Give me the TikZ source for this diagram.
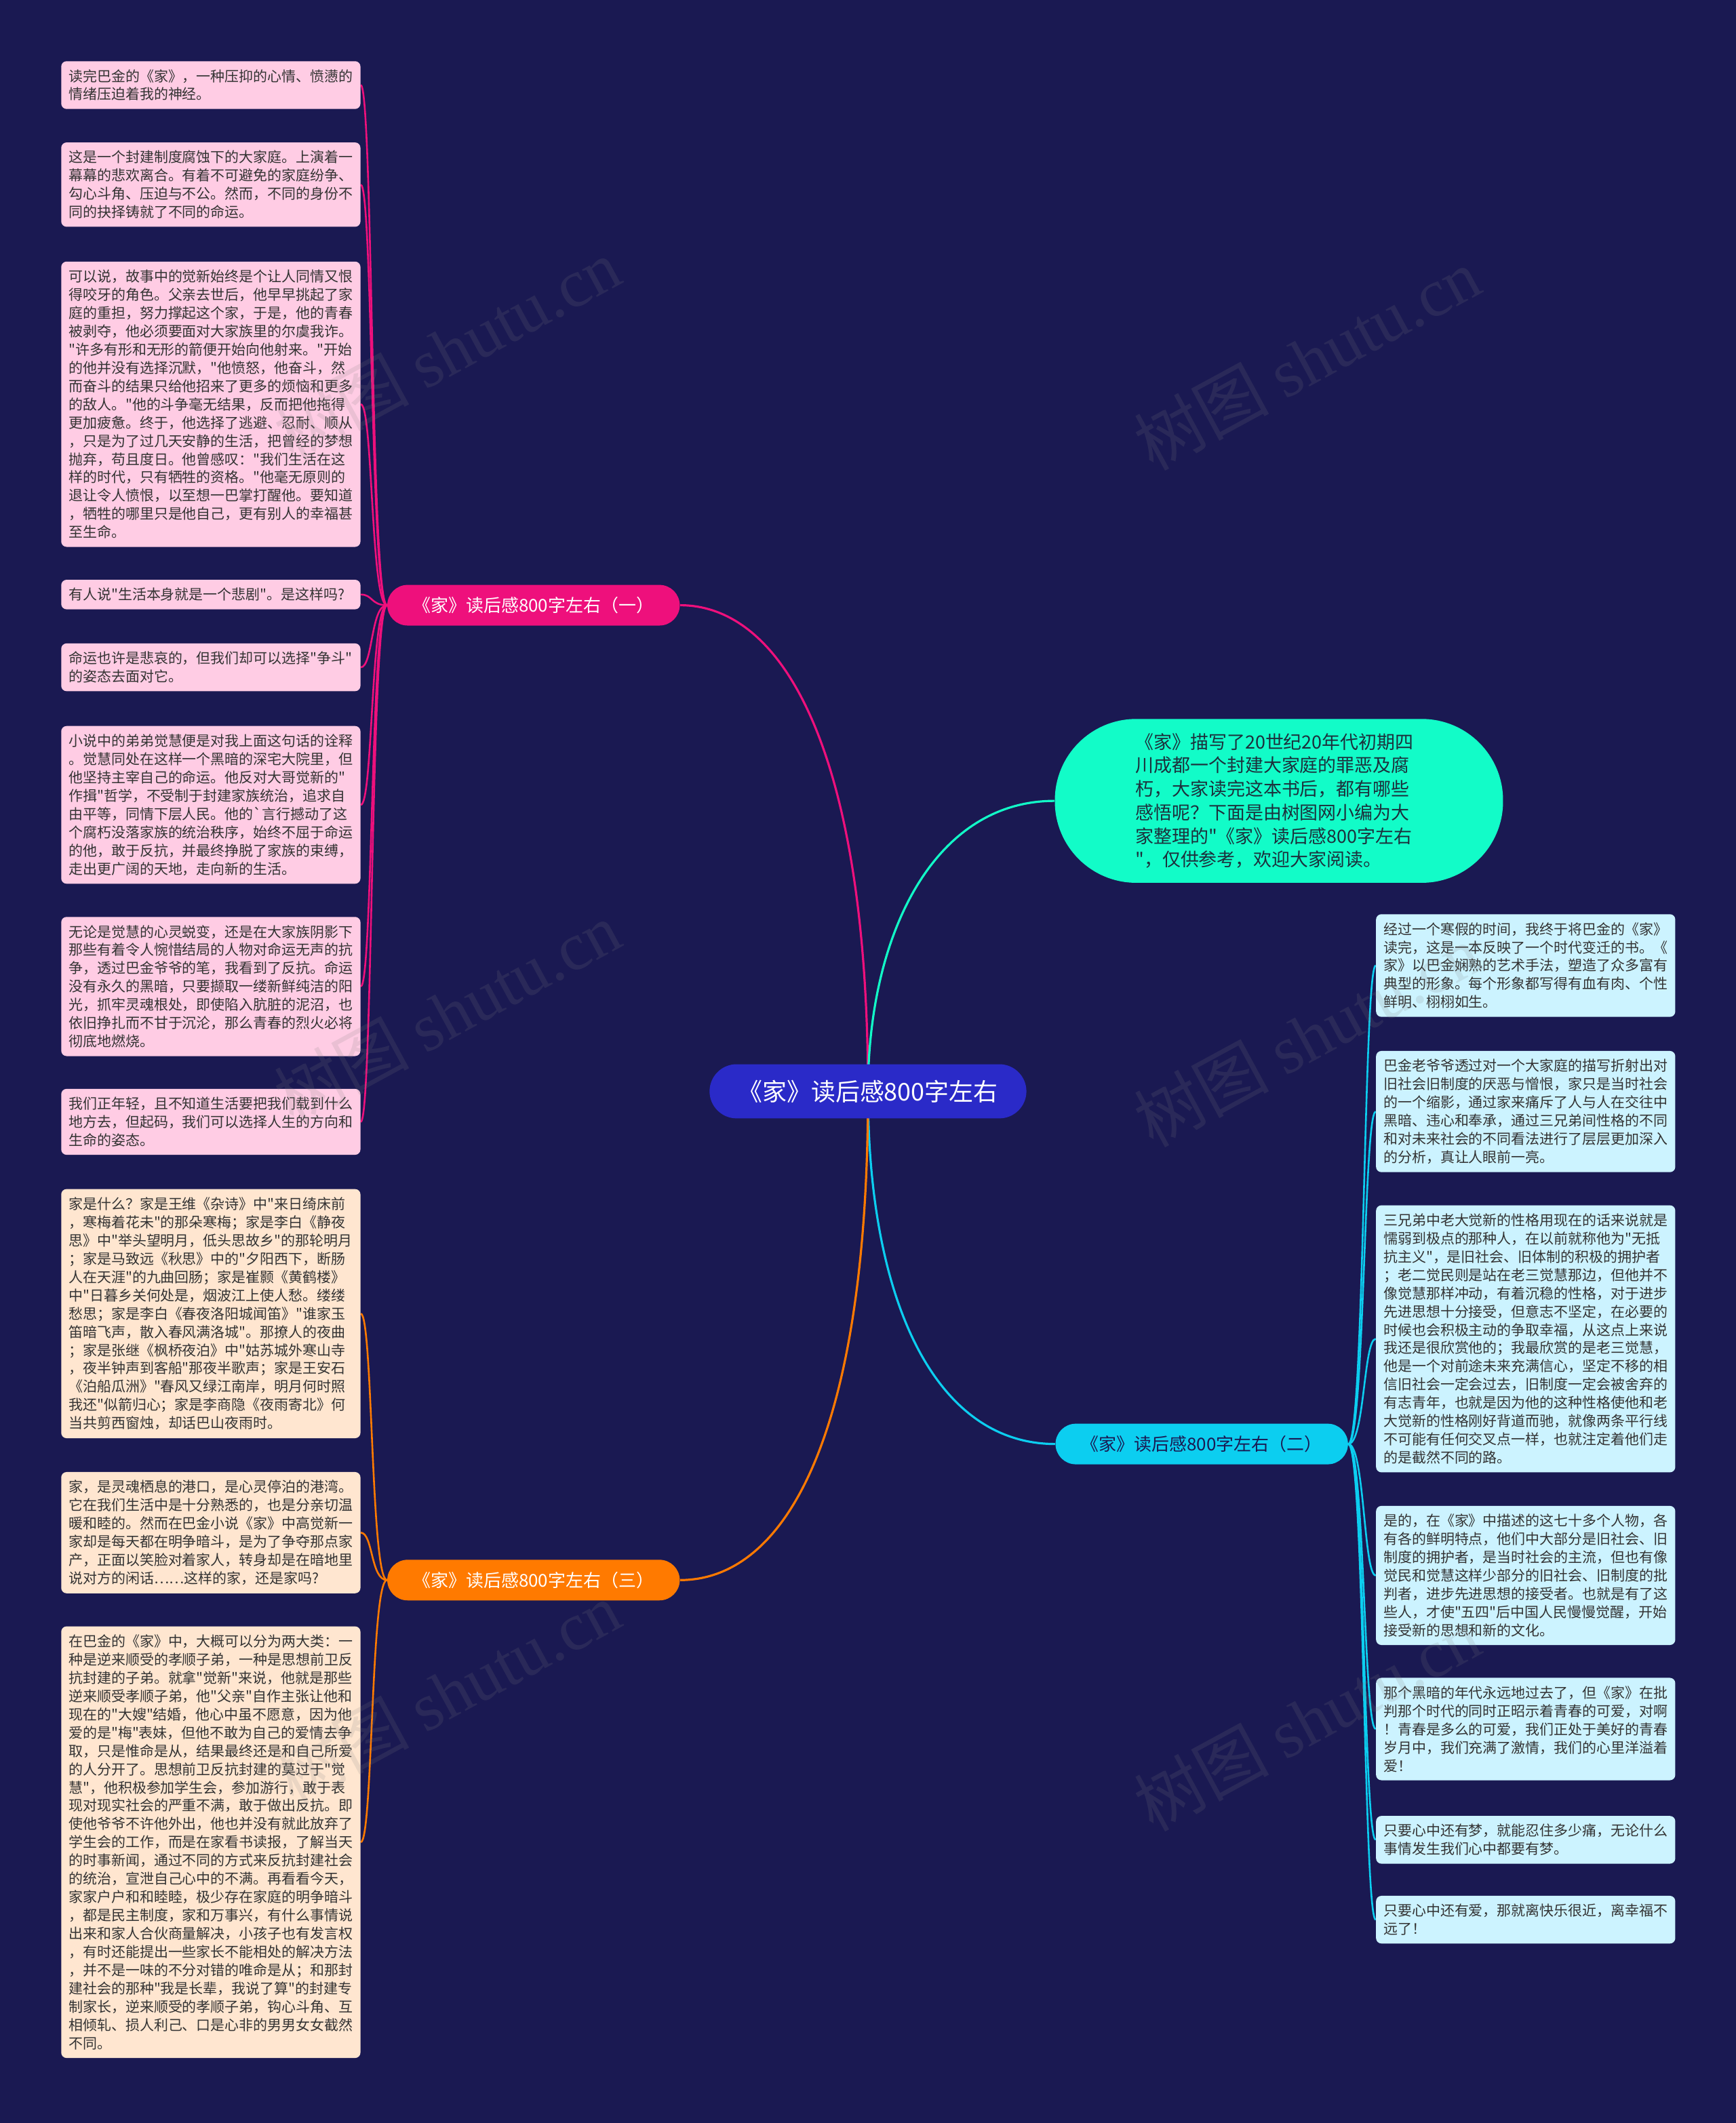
\documentclass[tikz,border=0pt]{standalone}
\usepackage{fontspec}
\newfontfamily\zh{Noto Sans CJK SC}
\newfontfamily\wmlatin{Liberation Serif}
\usetikzlibrary{calc}
\definecolor{bgc}{RGB}{26,25,82}
\definecolor{cnode}{RGB}{42,42,200}
\definecolor{pinkb}{RGB}{238,16,124}
\definecolor{orangeb}{RGB}{255,122,0}
\definecolor{cyanb}{RGB}{12,206,240}
\definecolor{tealb}{RGB}{18,252,200}
\definecolor{pinkl}{RGB}{255,204,228}
\definecolor{peachl}{RGB}{255,230,208}
\definecolor{cyanl}{RGB}{204,243,255}
\definecolor{ltext}{RGB}{51,51,51}
\definecolor{ttext}{RGB}{28,48,60}
\definecolor{b2text}{RGB}{26,25,82}
\pgfdeclarelayer{back}
\pgfdeclarelayer{edges}
\pgfdeclarelayer{front}
\pgfsetlayers{back,edges,main,front}
\begin{document}
\zh
\begin{tikzpicture}[x=1pt,y=-1pt,
  leaf/.style={rounded corners=4pt, anchor=north west, text width=210pt,
    inner xsep=5.5pt, inner ysep=6pt, align=left, text=ltext,
    font=\zh\fontsize{10.5pt}{13.5pt}\selectfont},
  pinkleaf/.style={leaf, fill=pinkl},
  peachleaf/.style={leaf, fill=peachl},
  cyanleaf/.style={leaf, fill=cyanl},
  branchbox/.style={rounded corners=15pt, minimum width=216pt, minimum height=30pt,
    inner sep=0pt, font=\zh\fontsize{13pt}{15pt}\selectfont},
  mainline/.style={line width=1.6pt},
  leafline/.style={line width=1.3pt},
  wm/.style={rotate=28.5, text=gray, text opacity=0.16,
    font=\zh\fontsize{50pt}{50pt}\selectfont}
]
\begin{pgfonlayer}{back}
\fill[bgc] (0,0) rectangle (1282,1568);
\end{pgfonlayer}
\useasboundingbox (0,0) rectangle (1282,1568);

% central and branch nodes
\node[fill=cnode, rounded corners=20pt, minimum width=234pt, minimum height=40pt,
  inner sep=0pt, text=white, font=\zh\fontsize{18pt}{20pt}\selectfont] (cn) at (641,806) {《家》读后感800字左右};
\coordinate (hub) at (641,806);
\node[branchbox, fill=pinkb, text=white] (b1) at (394,447) {《家》读后感800字左右（一）};
\node[branchbox, fill=cyanb, text=b2text] (b2) at (887.5,1066.5) {《家》读后感800字左右（二）};
\node[branchbox, fill=orangeb, text=white] (b3) at (394,1167) {《家》读后感800字左右（三）};
\node[fill=tealb, rounded corners=60pt, minimum width=331pt, minimum height=121pt,
  inner sep=0pt, text width=212pt, align=left, text=ttext,
  font=\zh\fontsize{13.5pt}{17.4pt}\selectfont] (tl) at (944.5,591.5)
  {《家》描写了20世纪20年代初期四\\川成都一个封建大家庭的罪恶及腐\\朽，大家读完这本书后，都有哪些\\感悟呢？下面是由树图网小编为大\\家整理的"《家》读后感800字左右\\"，仅供参考，欢迎大家阅读。};

% left pink leaves
\node[pinkleaf] (l1) at (45,45) {读完巴金的《家》，一种压抑的心情、愤懑的\\情绪压迫着我的神经。};
\node[pinkleaf] (l2) at (45,105) {这是一个封建制度腐蚀下的大家庭。上演着一\\幕幕的悲欢离合。有着不可避免的家庭纷争、\\勾心斗角、压迫与不公。然而，不同的身份不\\同的抉择铸就了不同的命运。};
\node[pinkleaf] (l3) at (45,193) {可以说，故事中的觉新始终是个让人同情又恨\\得咬牙的角色。父亲去世后，他早早挑起了家\\庭的重担，努力撑起这个家，于是，他的青春\\被剥夺，他必须要面对大家族里的尔虞我诈。\\"许多有形和无形的箭便开始向他射来。"开始\\的他并没有选择沉默，"他愤怒，他奋斗，然\\而奋斗的结果只给他招来了更多的烦恼和更多\\的敌人。"他的斗争毫无结果，反而把他拖得\\更加疲惫。终于，他选择了逃避、忍耐、顺从\\，只是为了过几天安静的生活，把曾经的梦想\\抛弃，苟且度日。他曾感叹："我们生活在这\\样的时代，只有牺牲的资格。"他毫无原则的\\退让令人愤恨，以至想一巴掌打醒他。要知道\\，牺牲的哪里只是他自己，更有别人的幸福甚\\至生命。};
\node[pinkleaf] (l4) at (45,428) {有人说"生活本身就是一个悲剧"。是这样吗?};
\node[pinkleaf] (l5) at (45,475) {命运也许是悲哀的，但我们却可以选择"争斗"\\的姿态去面对它。};
\node[pinkleaf] (l6) at (45,536) {小说中的弟弟觉慧便是对我上面这句话的诠释\\。觉慧同处在这样一个黑暗的深宅大院里，但\\他坚持主宰自己的命运。他反对大哥觉新的"\\作揖"哲学，不受制于封建家族统治，追求自\\由平等，同情下层人民。他的`言行撼动了这\\个腐朽没落家族的统治秩序，始终不屈于命运\\的他，敢于反抗，并最终挣脱了家族的束缚，\\走出更广阔的天地，走向新的生活。};
\node[pinkleaf] (l7) at (45,677) {无论是觉慧的心灵蜕变，还是在大家族阴影下\\那些有着令人惋惜结局的人物对命运无声的抗\\争，透过巴金爷爷的笔，我看到了反抗。命运\\没有永久的黑暗，只要撷取一缕新鲜纯洁的阳\\光，抓牢灵魂根处，即使陷入肮脏的泥沼，也\\依旧挣扎而不甘于沉沦，那么青春的烈火必将\\彻底地燃烧。};
\node[pinkleaf] (l8) at (45,804) {我们正年轻，且不知道生活要把我们载到什么\\地方去，但起码，我们可以选择人生的方向和\\生命的姿态。};

% left peach leaves
\node[peachleaf] (l9) at (45,878) {家是什么？家是王维《杂诗》中"来日绮床前\\，寒梅着花未"的那朵寒梅；家是李白《静夜\\思》中"举头望明月，低头思故乡"的那轮明月\\；家是马致远《秋思》中的"夕阳西下，断肠\\人在天涯"的九曲回肠；家是崔颢《黄鹤楼》\\中"日暮乡关何处是，烟波江上使人愁。缕缕\\愁思；家是李白《春夜洛阳城闻笛》"谁家玉\\笛暗飞声，散入春风满洛城"。那撩人的夜曲\\；家是张继《枫桥夜泊》中"姑苏城外寒山寺\\，夜半钟声到客船"那夜半歌声；家是王安石\\《泊船瓜洲》"春风又绿江南岸，明月何时照\\我还"似箭归心；家是李商隐《夜雨寄北》何\\当共剪西窗烛，却话巴山夜雨时。};
\node[peachleaf] (l10) at (45,1087) {家，是灵魂栖息的港口，是心灵停泊的港湾。\\它在我们生活中是十分熟悉的，也是分亲切温\\暖和睦的。然而在巴金小说《家》中高觉新一\\家却是每天都在明争暗斗，是为了争夺那点家\\产，正面以笑脸对着家人，转身却是在暗地里\\说对方的闲话……这样的家，还是家吗?};
\node[peachleaf] (l11) at (45,1201) {在巴金的《家》中，大概可以分为两大类：一\\种是逆来顺受的孝顺子弟，一种是思想前卫反\\抗封建的子弟。就拿"觉新"来说，他就是那些\\逆来顺受孝顺子弟，他"父亲"自作主张让他和\\现在的"大嫂"结婚，他心中虽不愿意，因为他\\爱的是"梅"表妹，但他不敢为自己的爱情去争\\取，只是惟命是从，结果最终还是和自己所爱\\的人分开了。思想前卫反抗封建的莫过于"觉\\慧"，他积极参加学生会，参加游行，敢于表\\现对现实社会的严重不满，敢于做出反抗。即\\使他爷爷不许他外出，他也并没有就此放弃了\\学生会的工作，而是在家看书读报，了解当天\\的时事新闻，通过不同的方式来反抗封建社会\\的统治，宣泄自己心中的不满。再看看今天，\\家家户户和和睦睦，极少存在家庭的明争暗斗\\，都是民主制度，家和万事兴，有什么事情说\\出来和家人合伙商量解决，小孩子也有发言权\\，有时还能提出一些家长不能相处的解决方法\\，并不是一味的不分对错的唯命是从；和那封\\建社会的那种"我是长辈，我说了算"的封建专\\制家长，逆来顺受的孝顺子弟，钩心斗角、互\\相倾轧、损人利己、口是心非的男男女女截然\\不同。};

% right cyan leaves
\node[cyanleaf] (r1) at (1016,675) {经过一个寒假的时间，我终于将巴金的《家》\\读完，这是一本反映了一个时代变迁的书。《\\家》以巴金娴熟的艺术手法，塑造了众多富有\\典型的形象。每个形象都写得有血有肉、个性\\鲜明、栩栩如生。};
\node[cyanleaf] (r2) at (1016,776) {巴金老爷爷透过对一个大家庭的描写折射出对\\旧社会旧制度的厌恶与憎恨，家只是当时社会\\的一个缩影，通过家来痛斥了人与人在交往中\\黑暗、违心和奉承，通过三兄弟间性格的不同\\和对未来社会的不同看法进行了层层更加深入\\的分析，真让人眼前一亮。};
\node[cyanleaf] (r3) at (1016,890) {三兄弟中老大觉新的性格用现在的话来说就是\\懦弱到极点的那种人，在以前就称他为"无抵\\抗主义"，是旧社会、旧体制的积极的拥护者\\；老二觉民则是站在老三觉慧那边，但他并不\\像觉慧那样冲动，有着沉稳的性格，对于进步\\先进思想十分接受，但意志不坚定，在必要的\\时候也会积极主动的争取幸福，从这点上来说\\我还是很欣赏他的；我最欣赏的是老三觉慧，\\他是一个对前途未来充满信心，坚定不移的相\\信旧社会一定会过去，旧制度一定会被舍弃的\\有志青年，也就是因为他的这种性格使他和老\\大觉新的性格刚好背道而驰，就像两条平行线\\不可能有任何交叉点一样，也就注定着他们走\\的是截然不同的路。};
\node[cyanleaf] (r4) at (1016,1112) {是的，在《家》中描述的这七十多个人物，各\\有各的鲜明特点，他们中大部分是旧社会、旧\\制度的拥护者，是当时社会的主流，但也有像\\觉民和觉慧这样少部分的旧社会、旧制度的批\\判者，进步先进思想的接受者。也就是有了这\\些人，才使"五四"后中国人民慢慢觉醒，开始\\接受新的思想和新的文化。};
\node[cyanleaf] (r5) at (1016,1239) {那个黑暗的年代永远地过去了，但《家》在批\\判那个时代的同时正昭示着青春的可爱，对啊\\！青春是多么的可爱，我们正处于美好的青春\\岁月中，我们充满了激情，我们的心里洋溢着\\爱！};
\node[cyanleaf] (r6) at (1016,1341) {只要心中还有梦，就能忍住多少痛，无论什么\\事情发生我们心中都要有梦。};
\node[cyanleaf] (r7) at (1016,1400) {只要心中还有爱，那就离快乐很近，离幸福不\\远了！};

% connectors
\begin{pgfonlayer}{edges}
\draw[mainline, pinkb] (hub) .. controls +(0,-246) and +(78,0) .. (b1.east);
\draw[mainline, tealb] (hub) .. controls +(0,-116) and +(-89,0) .. (tl.west);
\draw[mainline, cyanb] (hub) .. controls +(0,154) and +(-89,0) .. (b2.west);
\draw[mainline, orangeb] (hub) .. controls +(0,254) and +(78,0) .. (b3.east);
\foreach \n in {l1,l2,l3,l4,l5,l6,l7,l8}
  \draw[leafline, pinkb] (b1.west) .. controls +(-12,0) and +(9,0) .. (\n.east);
\foreach \n in {l9,l10,l11}
  \draw[leafline, orangeb] (b3.west) .. controls +(-12,0) and +(9,0) .. (\n.east);
\foreach \n in {r1,r2,r3,r4,r5,r6,r7}
  \draw[leafline, cyanb] (b2.east) .. controls +(12,0) and +(-9,0) .. (\n.west);
\end{pgfonlayer}

% watermarks
\begin{pgfonlayer}{front}
\node[wm] (w1) at (330,258) {树图 {\wmlatin shutu.cn}};
\node[wm] (w2) at (965,265) {树图 {\wmlatin shutu.cn}};
\node[wm] (w3) at (330,748) {树图 {\wmlatin shutu.cn}};
\node[wm] (w4) at (965,765) {树图 {\wmlatin shutu.cn}};
\node[wm] (w5) at (330,1250) {树图 {\wmlatin shutu.cn}};
\node[wm] (w6) at (965,1270) {树图 {\wmlatin shutu.cn}};
\end{pgfonlayer}
\end{tikzpicture}
\end{document}
